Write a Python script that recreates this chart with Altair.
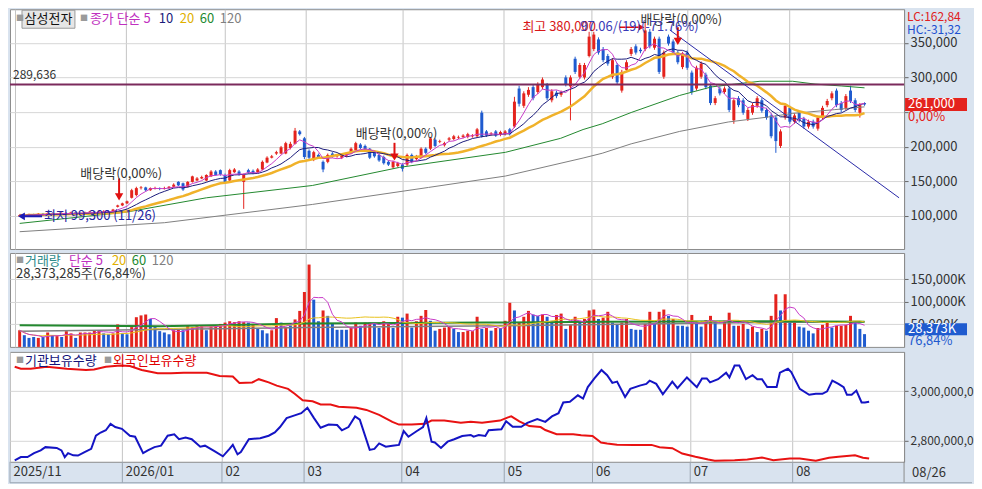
import json
import altair as alt
import pandas as pd

FONT = "Noto Sans CJK KR"
W, H1, H2, H3 = 895, 240, 94, 110
XDOM = [-1.0, 188.4]
RED = "#e4231d"
BLUE = "#1f5bcf"

# ---------------- daily candles (thousand won) ----------------
opens = [
    99.3, 101, 100, 102, 101, 103, 102, 104, 103, 102,
    104, 103, 105, 104, 103, 105, 106, 104, 106, 107,
    106, 113, 115, 118, 126, 130, 140, 141, 137, 139,
    140, 139, 140, 142, 149, 147, 142, 149, 151, 154,
    151, 157, 164, 166, 159, 151, 163, 164, 149, 166,
    165, 163, 167, 177, 184, 190, 190, 190, 198, 204,
    222, 212, 194, 181, 188, 178, 178, 190, 186, 184,
    187, 190, 195, 203, 201, 197, 192, 188, 185, 178,
    170, 172, 174, 174, 188, 182, 184, 197, 197, 210,
    207, 202, 210, 211, 213, 214, 214, 215, 215, 249,
    222, 218, 222, 217, 218, 225, 229, 284, 259, 275,
    286, 279, 286, 290, 267, 278, 275, 300, 287, 327,
    301, 300, 331, 341, 355, 341, 331, 301, 318, 281,
    311, 334, 345, 340, 341, 366, 343, 356, 301, 359,
    352, 336, 315, 336, 307, 284, 301, 304, 288, 263,
    284, 279, 284, 238, 270, 267, 240, 249, 259, 267,
    253, 245, 242, 201, 242, 256, 236, 249, 240, 229,
    236, 226, 242, 260, 270, 281, 263, 256, 281, 267,
    249, 263]
highs = [
    102, 102, 103, 103, 104, 104, 105, 105, 104, 105,
    105, 106, 106, 105, 106, 107, 107, 107, 108, 108,
    110, 116, 119, 122, 139, 142, 143, 142, 141, 142,
    141, 142, 143, 147, 150, 148, 150, 158, 156, 158,
    160, 166, 166, 167, 161, 168, 169, 166, 161, 168,
    167, 169, 180, 186, 188, 194, 201, 207, 207, 227,
    224, 214, 196, 194, 190, 180, 190, 192, 189, 190,
    192, 199, 207, 205, 203, 198, 194, 190, 187, 180,
    180, 178, 176, 190, 190, 188, 199, 199, 214, 212,
    210, 207, 214, 217, 216, 218, 220, 218, 227, 252,
    224, 221, 224, 223, 224, 227, 272, 288, 280, 286,
    289, 293, 300, 292, 283, 281, 281, 303, 303, 330,
    321, 321, 366, 366, 358, 344, 334, 328, 321, 311,
    325, 344, 348, 343, 380, 370, 359, 359, 339, 362,
    355, 339, 337, 339, 310, 317, 323, 307, 291, 273,
    287, 287, 287, 270, 273, 270, 256, 263, 273, 270,
    256, 248, 245, 225, 262, 259, 248, 252, 243, 239,
    239, 245, 259, 269, 280, 284, 266, 276, 288, 270,
    263, 264]
lows = [
    99.3, 99, 99.5, 100, 100, 101, 101, 102, 101, 101,
    102, 102, 103, 102, 102, 104, 103, 103, 105, 105,
    105, 112, 114, 117, 125, 128, 138, 135, 136, 138,
    137, 138, 139, 141, 143, 136, 141, 148, 150, 153,
    150, 156, 158, 158, 147, 150, 162, 158, 110, 161,
    160, 162, 166, 176, 183, 188, 189, 189, 196, 203,
    216, 182, 181, 179, 183, 163, 176, 184, 184, 182,
    185, 189, 193, 196, 192, 182, 184, 178, 174, 172,
    168, 170, 164, 172, 176, 180, 183, 189, 195, 199,
    205, 200, 208, 209, 211, 212, 212, 213, 213, 213,
    214, 216, 214, 215, 216, 216, 227, 258, 256, 272,
    267, 276, 283, 267, 264, 270, 272, 287, 238, 305,
    298, 297, 329, 338, 333, 322, 317, 298, 290, 278,
    308, 331, 333, 335, 338, 342, 340, 305, 298, 346,
    333, 319, 312, 311, 275, 281, 298, 283, 260, 260,
    274, 276, 250, 233, 257, 246, 237, 246, 256, 249,
    239, 212, 191, 198, 239, 233, 233, 235, 226, 226,
    226, 223, 239, 257, 267, 257, 250, 253, 263, 250,
    242, 259]
closes = [
    101, 100, 102, 101, 103, 102, 104, 103, 102, 104,
    103, 105, 104, 103, 105, 106, 104, 106, 107, 106,
    109, 115, 118, 121, 137, 140, 141, 137, 140, 140,
    139, 140, 142, 145, 144, 138, 149, 157, 154, 156,
    159, 164, 159, 160, 149, 166, 167, 160, 159, 163,
    162, 167, 178, 184, 186, 192, 199, 205, 204, 223,
    218, 185, 184, 192, 185, 167, 188, 186, 187, 188,
    190, 197, 205, 198, 194, 184, 186, 180, 176, 174,
    178, 176, 168, 188, 178, 186, 197, 191, 212, 201,
    208, 205, 212, 215, 214, 216, 218, 216, 225, 215,
    216, 219, 216, 221, 222, 218, 265, 262, 277, 282,
    270, 290, 297, 270, 280, 273, 278, 290, 300, 308,
    318, 318, 359, 362, 336, 325, 320, 325, 293, 308,
    322, 341, 336, 338, 368, 345, 356, 308, 336, 349,
    336, 322, 334, 314, 279, 314, 320, 286, 263, 270,
    277, 284, 253, 267, 260, 249, 253, 260, 270, 252,
    242, 215, 208, 222, 259, 236, 245, 238, 229, 236,
    229, 242, 256, 266, 277, 260, 253, 273, 266, 253,
    260, 261]

# ---------------- volume (million shares) ----------------
volumes_m = [
    37, 26, 20, 22, 20, 22, 32, 26, 24, 22,
    35, 30, 20, 32, 32, 32, 37, 37, 30, 28,
    30, 50, 30, 28, 44, 66, 70, 72, 62, 44,
    35, 32, 28, 37, 38, 37, 46, 44, 46, 48,
    37, 46, 48, 51, 54, 57, 55, 57, 55, 54,
    51, 41, 37, 30, 37, 64, 54, 44, 48, 61,
    80, 122, 183, 105, 57, 81, 69, 51, 38, 38,
    38, 43, 54, 47, 54, 54, 51, 42, 57, 51,
    42, 67, 65, 74, 43, 57, 69, 82, 58, 36,
    40, 43, 45, 40, 33, 33, 36, 35, 67, 40,
    42, 36, 42, 42, 58, 98, 81, 54, 67, 80,
    72, 69, 72, 67, 58, 71, 74, 40, 49, 67,
    58, 62, 81, 83, 62, 65, 78, 54, 51, 54,
    62, 40, 38, 38, 51, 78, 51, 78, 83, 69,
    62, 47, 47, 45, 71, 54, 45, 59, 69, 54,
    40, 58, 76, 47, 47, 51, 40, 45, 33, 40,
    36, 69, 117, 81, 117, 58, 58, 45, 43, 36,
    30, 42, 49, 57, 43, 47, 47, 49, 69, 54,
    40, 28.373]
vol_colors = ("rbbbrbrbrbrrbrrrrrbbr"
              "rbbrrrrbbbbbrrbrrrrbrrrrrrrr"
              "brbbbrrbrbrr"
              "rrbbrbbbbb" "rrbrrbbrrb" "rbrbrrrbbr" "rrbbrrrrbr"
              "brbrrbrrrb" "brbbrrbrrb" "rrrbrrbbrr" "bbbrrbrrbr"
              "bbbrbbrrbb" "rrbrrbrbrb" "rrbrbrbbbb" "rrrbrrrrbb" "b")

# long moving averages (thousand won)
ma60_idx = [0, 23, 40, 62.7, 81.4, 104.1, 115.9, 120.7, 124.8, 131, 141.4, 148.2, 153.2, 158.6, 165.6, 170.4, 176, 181]
ma60_val = [89, 105.5, 126, 143.8, 170, 191.8, 212, 224.7, 233, 249.3, 274, 286.3, 290.4, 294.5, 294.5, 290.4, 287.7, 285]
ma120_idx = [0, 31, 62.7, 87.6, 104.1, 120.7, 124.8, 131, 141.4, 151.8, 160, 165.6, 174.5, 181]
ma120_val = [77, 90, 116.4, 141, 157.5, 183.5, 190.4, 204, 222, 235.6, 242.5, 248, 253.4, 257.5]
# volume long averages (million shares)
vma60_idx = [0, 30, 61, 100, 125, 160, 181]
vma60_val = [48, 46, 52, 54, 56, 57, 56]
vma120_idx = [0, 61, 103, 140, 165, 181]
vma120_val = [35, 43, 47, 52, 55, 56]

# holdings (million shares)
inst_idx = [0, 1.3, 2.7, 4.1, 5.5, 6.5, 8.9, 9.9, 10.6, 11.3, 12.4, 13.4, 14.8, 16.2, 17.2, 18.2, 19.3, 20.3, 21.3, 22.7,
            24.4, 25.5, 27.2, 28.2, 29.6, 31.0, 32.4, 33.8, 34.8, 36.2, 37.5, 39.3, 40.3, 42.4, 44.1, 45.5, 46.2, 47.2, 47.9, 49.6,
            52.0, 53.8, 55.1, 56.2, 57.6, 59.3, 60.7, 62.0, 63.4, 64.8, 66.5, 68.3, 69.3, 70.7, 72.1, 73.1, 75.2, 76.2, 77.2, 78.6,
            80.0, 81.4, 82.4, 83.4, 85.2, 86.5, 87.2, 88.3, 89.0, 90.3, 91.7,
            93.1, 94.8, 96.6, 97.2, 98.3, 99.7, 100.4, 103.1, 104.1, 105.5, 107.3, 108.6, 110.7, 112.4, 113.8, 115.2, 116.2, 117.6, 119.3, 120.4,
            121.4, 122.8, 124.3, 125.5, 126.6, 127.6, 129.3, 130.4, 132.4, 133.8, 134.5, 135.9, 137.3, 139.3, 140.4, 142.4, 144.5, 145.6, 146.6, 147.3,
            149.0, 150.7, 151.4, 152.5, 153.5, 154.9, 156.3, 157.3, 158.3, 159.4, 161.4, 162.1, 163.8, 164.5, 166.3, 168.3, 169.7, 171.1, 172.1, 173.2,
            174.5, 175.6, 176.3, 177.3, 178.3, 179.4, 180.1, 181.0]
inst_val = [2721, 2734, 2734, 2750, 2761, 2774, 2771, 2761, 2734, 2750, 2741, 2740, 2754, 2767, 2820, 2833, 2842, 2868, 2855, 2848,
            2820, 2816, 2750, 2761, 2774, 2780, 2820, 2826, 2806, 2813, 2806, 2776, 2780, 2757, 2737, 2767, 2783, 2745, 2754, 2806,
            2810, 2820, 2833, 2855, 2891, 2902, 2911, 2933, 2891, 2852, 2865, 2863, 2842, 2855, 2898, 2885, 2763, 2767, 2789, 2776,
            2780, 2783, 2839, 2816, 2839, 2855, 2891, 2796, 2793, 2771, 2796,
            2806, 2819, 2823, 2816, 2823, 2819, 2842, 2846, 2878, 2856, 2856, 2872, 2887, 2876, 2898, 2911, 2954, 2957, 2983, 2970,
            3016, 3051, 3085, 3064, 3033, 3038, 2976, 3009, 3022, 3029, 3042, 3029, 2987, 3038, 3012, 3055, 3016, 3051, 3051, 3035,
            3048, 3074, 3055, 3103, 3103, 3048, 3064, 3048, 3048, 3016, 3016, 3074, 3090, 3077, 3009, 2985, 2989, 2989, 2999, 3042,
            3029, 3016, 2985, 2985, 3002, 2954, 2954, 2957]
frgn_idx = [0, 1.3, 3.4, 6.8, 11.0, 15.1, 16.8, 19.3, 22.4, 24.4, 26.9, 30.3, 33.1, 35.8, 38.2, 40.7, 43.4, 46.2, 47.6, 50.3,
            51.7, 53.8, 55.5, 57.9, 59.3, 61.0, 63.1, 64.8, 66.9, 68.6, 72.4, 74.5, 77.2, 80.0, 81.4, 84.1, 86.9, 88.3, 91.0,
            94.5, 96.6, 99.0, 102.8, 104.5, 105.2, 106.9, 109.0, 111.4, 112.4, 114.8, 118.3, 120.0, 122.4, 124.2, 125.5, 127.6, 131.1, 134.9, 136.6,
            139.3, 141.4, 144.2, 146.9, 148.3, 152.5, 155.2, 158.3, 160.7, 164.2, 166.3, 169.7, 172.5, 174.5, 178.0, 179.7, 181.0]
frgn_val = [3098, 3090, 3090, 3098, 3090, 3085, 3087, 3098, 3103, 3101, 3085, 3072, 3072, 3074, 3074, 3074, 3061, 3059, 3033, 3035,
            3048, 3035, 3022, 3009, 2989, 2963, 2959, 2946, 2946, 2937, 2933, 2924, 2904, 2876, 2865, 2865, 2868, 2881, 2881,
            2872, 2876, 2872, 2881, 2894, 2898, 2878, 2859, 2855, 2843, 2826, 2826, 2822, 2819, 2793, 2789, 2784, 2783, 2783, 2774,
            2770, 2748, 2735, 2724, 2719, 2721, 2724, 2732, 2721, 2728, 2728, 2719, 2731, 2735, 2741, 2731, 2728]

# axis / annotation values
month_grid = [-1.0, 22.8, 43.9, 61.3, 82.0, 103.7, 122.4, 143.1, 164.8]
month_names = ["2025/11", "2026/01", "02", "03", "04", "05", "06", "07", "08"]
hline_value = 289636
trend_idx = [139.3, 188.4]
trend_price = [368500, 126000]
div_label_idx = [13, 72, 133]
div_label_price = [160000, 218000, 383500]
div_idx = [21.3, 80.3, 141.0]
div_top = [154000, 205500, 372600]
div_tip = [127400, 185000, 352000]
low_value = 99300
current_price = 261000

# ---------------- frames ----------------
n = len(closes)
cdf = pd.DataFrame({
    "idx": list(range(n)),
    "open": [v * 1000 for v in opens],
    "high": [v * 1000 for v in highs],
    "low": [v * 1000 for v in lows],
    "close": [v * 1000 for v in closes],
})
cdf["dir"] = ["up" if c >= o else "down" for o, c in zip(opens, closes)]
vdf = pd.DataFrame({"idx": list(range(n)), "vol": [v * 1000 for v in volumes_m],
                    "dir": ["up" if ch == "r" else "down" for ch in vol_colors]})
one = pd.DataFrame({"k": [0]})

dir_scale = alt.Scale(domain=["up", "down"], range=[RED, BLUE])
xscale = alt.Scale(domain=XDOM, nice=False, zero=False)
lab_expr = f"{json.dumps(month_names)}[indexof({json.dumps(month_grid)}, datum.value)]"
ax_hidden = alt.Axis(values=month_grid, grid=True, gridColor="#c4c4c4", labels=False,
                     ticks=False, domain=False, title=None)
ax_bottom = alt.Axis(values=month_grid, grid=True, gridColor="#c4c4c4", labels=True,
                     ticks=False, tickSize=0, domain=False, title=None, labelExpr=lab_expr,
                     labelAlign="left", labelBaseline="top", labelPadding=4, labelOffset=3,
                     labelFontSize=13, labelColor="#333", labelFlush=False,
                     labelOverlap=False, labelBound=False)


def X(axis, field="idx"):
    return alt.X(f"{field}:Q", scale=xscale, axis=axis)


def txt(px, py, s, color, size=13, align="left", weight="normal"):
    return alt.Chart(one).mark_text(text=s, align=align, baseline="middle", color=color,
                                    fontSize=size, fontWeight=weight).encode(
        x=alt.value(px), y=alt.value(py))


def win_line(df, field, nwin, color, w, yfun, axis):
    return alt.Chart(df).transform_window(
        ma=f"mean({field})", frame=[-(nwin - 1), 0], sort=[alt.SortField("idx")]
    ).mark_line(color=color, strokeWidth=w).encode(x=X(axis), y=yfun("ma"))


# ---------------- price panel ----------------
py_scale = alt.Scale(domain=[52000, 398600], nice=False, zero=False)
py_axis = alt.Axis(orient="right", values=[100000, 150000, 200000, 250000, 300000, 350000],
                   labelExpr="datum.value == 250000 ? '' : format(datum.value, ',d')",
                   grid=True, gridColor="#d6d6d6", tickSize=4, tickColor="#666",
                   domainColor="#8c8c8c", labelColor="#333", labelFontSize=13,
                   labelPadding=2, title=None)


def PY(f):
    return alt.Y(f"{f}:Q", scale=py_scale, axis=py_axis)


colr = alt.Color("dir:N", scale=dir_scale, legend=None)
wicks = alt.Chart(cdf).mark_rule(strokeWidth=1).encode(x=X(ax_hidden), y=PY("low"), y2="high:Q", color=colr)
bodies = alt.Chart(cdf).mark_bar(size=3, orient="vertical").encode(x=X(ax_hidden), y=PY("open"), y2="close:Q", color=colr)

ma60_df = pd.DataFrame({"idx": ma60_idx, "v": [v * 1000 for v in ma60_val]})
ma120_df = pd.DataFrame({"idx": ma120_idx, "v": [v * 1000 for v in ma120_val]})
ma120 = alt.Chart(ma120_df).mark_line(color="#808080", strokeWidth=1).encode(x=X(ax_hidden), y=PY("v"))
ma60 = alt.Chart(ma60_df).mark_line(color="#23892f", strokeWidth=1).encode(x=X(ax_hidden), y=PY("v"))
ma20 = win_line(cdf, "close", 20, "#f0b22a", 2.5, PY, ax_hidden)
ma10 = win_line(cdf, "close", 10, "#1b1b7a", 1, PY, ax_hidden)
ma5 = win_line(cdf, "close", 5, "#c83cc8", 1, PY, ax_hidden)

hdf = pd.DataFrame({"price": [hline_value]})
hline = alt.Chart(hdf).mark_rule(color="#7b2a5c", strokeWidth=2).encode(y=PY("price"))
hlabel = alt.Chart(hdf).mark_text(align="left", baseline="bottom", dy=-3, fontSize=12, color="#333").encode(
    x=alt.value(3), y=PY("price"), text=alt.Text("price:Q", format=",d"))

tdf = pd.DataFrame({"idx": trend_idx, "price": trend_price})
trend = alt.Chart(tdf).mark_line(color="#2a2aa8", strokeWidth=1).encode(x=X(ax_hidden), y=PY("price"))

dldf = pd.DataFrame({"idx": div_label_idx, "price": div_label_price, "t": ["배당락(0,00%)"] * 3})
div_text = alt.Chart(dldf).mark_text(align="left", baseline="middle", fontSize=13, color="#333").encode(
    x=X(ax_hidden), y=PY("price"), text="t:N")
ddf = pd.DataFrame({"idx": div_idx, "top": div_top, "tip": div_tip})
stems = alt.Chart(ddf).mark_rule(color="#e01010", strokeWidth=2).encode(x=X(ax_hidden), y=PY("top"), y2="tip:Q")
heads = alt.Chart(ddf).mark_point(shape="triangle-down", filled=True, size=70, color="#e01010", opacity=1).encode(
    x=X(ax_hidden), y=PY("tip"))

lowdf = pd.DataFrame({"idx": [0.4], "idx2": [4.8], "price": [low_value], "t": ["최저 99,300 (11/26)"]})
low_rule = alt.Chart(lowdf).mark_rule(color="#1a1ab4", strokeWidth=2).encode(x=X(ax_hidden), x2="idx2:Q", y=PY("price"))
low_head = alt.Chart(lowdf).mark_point(shape="triangle-left", filled=True, size=60, color="#1a1ab4", opacity=1).encode(
    x=X(ax_hidden), y=PY("price"))
low_text = alt.Chart(lowdf).mark_text(align="left", baseline="middle", dx=2, fontSize=13, color="#2424a0").encode(
    x=X(ax_hidden, "idx2"), y=PY("price"), text="t:N")

hidf = pd.DataFrame({"idx": [107.7], "idx2": [120.1], "a1": [128.5], "a2": [133.2],
                     "price": [372600], "t1": ["최고 380,000"], "t2": ["97.06/(19)(-71.76%)"]})
hi_t1 = alt.Chart(hidf).mark_text(align="left", baseline="middle", fontSize=13, color="#d81818").encode(
    x=X(ax_hidden), y=PY("price"), text="t1:N")
hi_t2 = alt.Chart(hidf).mark_text(align="left", baseline="middle", fontSize=13, color="#3a3ab8").encode(
    x=X(ax_hidden, "idx2"), y=PY("price"), text="t2:N")
hi_ar = alt.Chart(hidf).mark_rule(color="#e01010", strokeWidth=1.5).encode(x=X(ax_hidden, "a1"), x2="a2:Q", y=PY("price"))
hi_hd = alt.Chart(hidf).mark_point(shape="triangle-right", filled=True, size=45, color="#e01010", opacity=1).encode(
    x=X(ax_hidden, "a2"), y=PY("price"))

pbox_df = pd.DataFrame({"top": [270400], "bot": [251600], "price": [current_price],
                        "t": [f"{current_price:,}"], "pp": [242500], "pt": ["0,00%"]})
pbox = alt.Chart(pbox_df).mark_rect(color="#e4231d").encode(x=alt.value(W + 1), x2=alt.value(W + 63), y=PY("top"), y2="bot:Q")
pbox_t = alt.Chart(pbox_df).mark_text(align="left", baseline="middle", fontSize=13, color="white").encode(
    x=alt.value(W + 4), y=PY("price"), text="t:N")
pbox_p = alt.Chart(pbox_df).mark_text(align="left", baseline="middle", fontSize=13, color="#e4231d").encode(
    x=alt.value(W + 4), y=PY("pp"), text="pt:N")

btn = alt.Chart(one).mark_rect(fill="#e6e6e6", stroke="#9a9a9a", strokeWidth=1).encode(
    x=alt.value(12), x2=alt.value(65), y=alt.value(1), y2=alt.value(19))
price_layers = [
    wicks, bodies, ma120, ma60, ma20, ma10, ma5, hline, hlabel, trend,
    stems, heads, div_text, low_rule, low_head, low_text, hi_ar, hi_hd, hi_t1, hi_t2,
    pbox, pbox_t, pbox_p, btn,
    txt(6, 10, "■", "#9a9a9a", 8), txt(38.5, 10, "삼성전자", "#111", 13, "center"),
    txt(70, 10, "■", "#9a9a9a", 8), txt(80, 10, "종가 단순 5", "#c030c0"),
    txt(149, 10, "10", "#1b1b7a"), txt(170, 10, "20", "#e0b000"),
    txt(190, 10, "60", "#23892f"), txt(210, 10, "120", "#808080"),
    txt(W + 3, 8, "LC:162,84", "#e02020", 12), txt(W + 3, 21, "HC:-31,32", "#2050d0", 12),
]
price = alt.layer(*price_layers).properties(width=W, height=H1)

# ---------------- volume panel ----------------
vy_scale = alt.Scale(domain=[0, 208700], nice=False, zero=False)
vy_axis = alt.Axis(orient="right", values=[50000, 100000, 150000],
                   labelExpr="format(datum.value, ',d') + 'K'", grid=True, gridColor="#d6d6d6",
                   tickSize=4, tickColor="#666", domainColor="#8c8c8c", labelColor="#333",
                   labelFontSize=13, labelPadding=2, title=None)


def VY(f):
    return alt.Y(f"{f}:Q", scale=vy_scale, axis=vy_axis)


vbars = alt.Chart(vdf).mark_bar(size=3, orient="vertical").encode(x=X(ax_hidden), y=VY("vol"), color=colr)
vma5 = win_line(vdf, "vol", 5, "#c83cc8", 1, VY, ax_hidden)
vma20 = win_line(vdf, "vol", 20, "#e8c21c", 1, VY, ax_hidden)
vma60_df = pd.DataFrame({"idx": vma60_idx, "v": [v * 1000 for v in vma60_val]})
vma120_df = pd.DataFrame({"idx": vma120_idx, "v": [v * 1000 for v in vma120_val]})
vma60 = alt.Chart(vma60_df).mark_line(color="#23892f", strokeWidth=2).encode(x=X(ax_hidden), y=VY("v"))
vma120 = alt.Chart(vma120_df).mark_line(color="#808080", strokeWidth=1.5).encode(x=X(ax_hidden), y=VY("v"))
vbox_df = pd.DataFrame({"top": [52500], "bot": [26100], "mid": [39300], "t": ["28,373K"],
                        "pp": [14000], "pt": ["76,84%"]})
vbox = alt.Chart(vbox_df).mark_rect(color="#1f5bcf").encode(x=alt.value(W + 1), x2=alt.value(W + 63), y=VY("top"), y2="bot:Q")
vbox_t = alt.Chart(vbox_df).mark_text(align="left", baseline="middle", fontSize=13, color="white").encode(
    x=alt.value(W + 4), y=VY("mid"), text="t:N")
vbox_p = alt.Chart(vbox_df).mark_text(align="left", baseline="middle", fontSize=13, color="#1f5bcf").encode(
    x=alt.value(W + 4), y=VY("pp"), text="pt:N")
vol_layers = [
    vbars, vma120, vma60, vma20, vma5, vbox, vbox_t, vbox_p,
    txt(6, 8, "■", "#9a9a9a", 8), txt(15, 8, "거래량", "#2e8b8b"),
    txt(59, 8, "단순 5", "#c030c0"), txt(102, 8, "20", "#e0b000"),
    txt(122, 8, "60", "#23892f"), txt(142, 8, "120", "#808080"),
    txt(6, 21, "28,373,285주(76,84%)", "#333"),
]
volume = alt.layer(*vol_layers).properties(width=W, height=H2)

# ---------------- holdings panel ----------------
hy_scale = alt.Scale(domain=[2715, 3158], nice=False, zero=False)
hy_axis = alt.Axis(orient="right", values=[2800, 3000],
                   labelExpr="slice(format(datum.value * 1000000, ',d'), 0, 11)",
                   grid=True, gridColor="#d6d6d6", tickSize=4, tickColor="#666",
                   domainColor="#8c8c8c", labelColor="#333", labelFontSize=12,
                   labelPadding=2, title=None)


def HY(f):
    return alt.Y(f"{f}:Q", scale=hy_scale, axis=hy_axis)


inst_df = pd.DataFrame({"idx": inst_idx, "v": inst_val})
frgn_df = pd.DataFrame({"idx": frgn_idx, "v": frgn_val})
inst = alt.Chart(inst_df).mark_line(color="#1414c4", strokeWidth=2).encode(x=X(ax_bottom), y=HY("v"))
frgn = alt.Chart(frgn_df).mark_line(color="#e81212", strokeWidth=2).encode(x=X(ax_bottom), y=HY("v"))
seps = alt.Chart(pd.DataFrame({"idx": month_grid})).mark_rule(color="#9aa4b0").encode(
    x=X(ax_bottom), y=alt.value(H3), y2=alt.value(H3 + 21))
rsep = alt.Chart(one).mark_rule(color="#8c8c8c").encode(x=alt.value(W), y=alt.value(H3), y2=alt.value(H3 + 21))
bline = alt.Chart(one).mark_rule(color="#9aa4b0").encode(x=alt.value(0), x2=alt.value(W + 68), y=alt.value(H3 + 21))
hold_layers = [
    seps, frgn, inst, rsep, bline,
    txt(6, 9, "■", "#9a9a9a", 8), txt(15, 9, "기관보유수량", "#14147a"),
    txt(94, 9, "■", "#9a9a9a", 8), txt(103, 9, "외국인보유수량", "#e00000"),
    txt(W + 8, H3 + 11, "08/26", "#333", 13),
]
holdings = alt.layer(*hold_layers).properties(width=W, height=H3)

chart = alt.vconcat(price, volume, holdings, spacing=2).properties(
    background="#d9e3ef", padding=0
).configure(font=FONT).configure_view(stroke="#8c8c8c", fill="white")

chart.save("out.html", embed_options={"renderer": "svg", "actions": False})
